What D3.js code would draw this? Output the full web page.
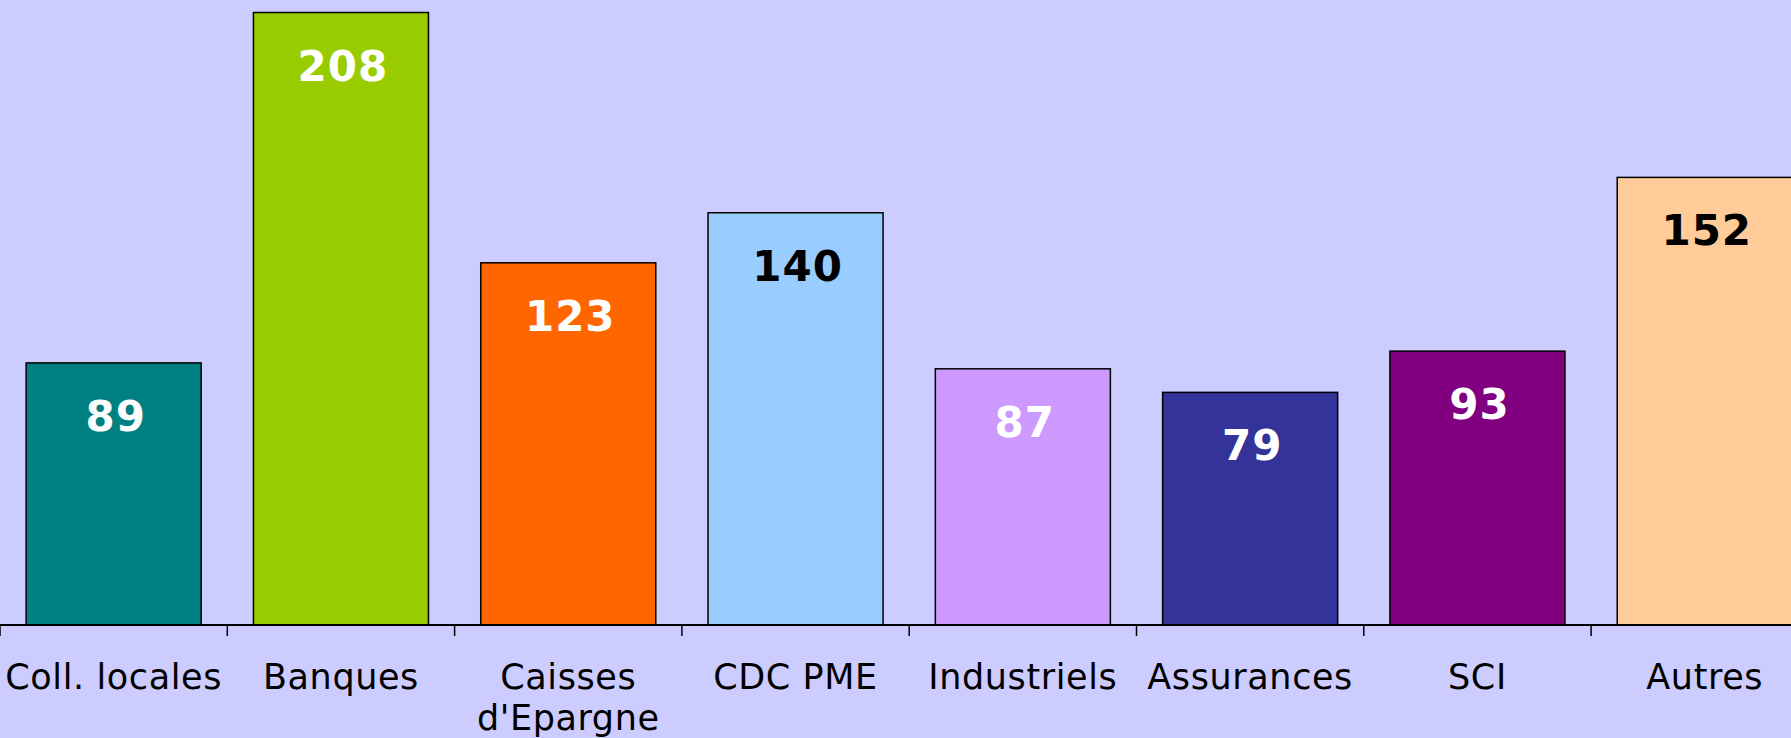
<!DOCTYPE html>
<html>
<head>
<meta charset="utf-8">
<script src="https://cdn.jsdelivr.net/npm/d3@7"></script>
<style>
  html, body { margin: 0; padding: 0; background: #ccccff; overflow: hidden; }
</style>
</head>
<body>
<div id="chart"></div>
<script>
var categories = ["Coll. locales", "Banques", "Caisses\nd'Epargne", "CDC PME", "Industriels", "Assurances", "SCI", "Autres"];
var values = [89, 208, 123, 140, 87, 79, 93, 152];
var barColors = ["#008080", "#99cc00", "#ff6600", "#99ccff", "#cc99ff", "#333399", "#800080", "#ffcc99"];
var labelColors = ["#fff", "#fff", "#fff", "#000", "#fff", "#fff", "#fff", "#000"];

var width = 1791, height = 738;
var baseY = 625;

var svg = d3.select("#chart")
  .append("svg")
  .attr("width", width)
  .attr("height", height)

svg.append("rect")
  .attr("width", width)
  .attr("height", height)
  .attr("fill", "#ccccff")

// band scale runs past the right edge, last bar is clipped like the original
var x = d3.scaleBand()
  .domain(categories)
  .range([0, 8 * 227.3])
  .paddingInner(0.23)
  .paddingOuter(0.115);

var y = d3.scaleLinear()
  .domain([0, 208])
  .range([baseY, 12.5]);

svg.selectAll("rect.bar")
  .data(values)
  .enter()
  .append("rect")
  .attr("class", "bar")
  .attr("x", (d, i) => x(categories[i]))
  .attr("y", d => y(d))
  .attr("width", x.bandwidth())
  .attr("height", d => baseY - y(d))
  .attr("fill", (d, i) => barColors[i])
  .attr("stroke", "#000")
  .attr("stroke-width", 1.5);

// axis line and ticks at band edges
svg.append("line")
  .attr("x1", 0).attr("x2", width)
  .attr("y1", baseY).attr("y2", baseY)
  .attr("stroke", "#000")
  .attr("stroke-width", 2);

var step = x.step();
svg.selectAll("line.tick")
  .data(d3.range(categories.length + 1))
  .enter()
  .append("line")
  .attr("class", "tick")
  .attr("x1", i => i * step).attr("x2", i => i * step)
  .attr("y1", baseY).attr("y2", baseY + 11)
  .attr("stroke", "#000")
  .attr("stroke-width", 1.5);

// value labels
svg.selectAll("text.val")
  .data(values)
  .enter()
  .append("text")
  .attr("class", "val")
  .attr("x", (d, i) => x(categories[i]) + x.bandwidth() / 2 + 2)
  .attr("y", d => y(d) + 68)
  .attr("text-anchor", "middle")
  .attr("font-family", "DejaVu Sans, Verdana, sans-serif")
  .attr("font-weight", "bold")
  .attr("font-size", 42)
  .attr("letter-spacing", 1)
  .attr("fill", (d, i) => labelColors[i])
  .text(d => d);

// category labels
var cat = svg.selectAll("text.cat")
  .data(categories)
  .enter()
  .append("text")
  .attr("class", "cat")
  .attr("text-anchor", "middle")
  .attr("font-family", "DejaVu Sans, Verdana, sans-serif")
  .attr("font-size", 35)
  .attr("letter-spacing", 0.6)
  .attr("fill", "#000");

cat.selectAll("tspan")
  .data(d => d.split("\n").map(t => ({t: t, c: d})))
  .enter()
  .append("tspan")
  .attr("x", d => x(d.c) + x.bandwidth() / 2)
  .attr("y", (d, i) => 689 + i * 41)
  .text(d => d.t);
</script>
</body>
</html>
